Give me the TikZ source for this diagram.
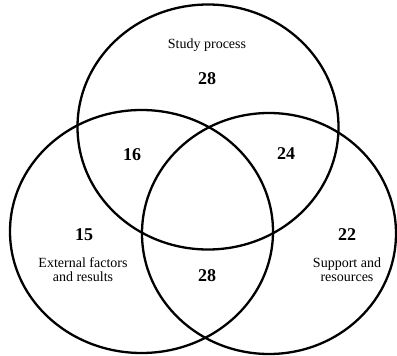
\documentclass[tikz,border=0pt]{standalone}
\usepackage{fontspec}
\setmainfont{Liberation Serif}
\begin{document}
\begin{tikzpicture}[x=1pt,y=-1pt,
  set/.style={draw=black,line width=2.3pt},
  lbl/.style={font=\fontsize{14}{14}\selectfont,align=center,inner sep=0pt},
  num/.style={font=\fontsize{18}{18}\selectfont\bfseries,inner sep=0pt}]
\useasboundingbox (0,0) rectangle (397,356);
\draw[set] (208,127) ellipse [x radius=130.5, y radius=122.5];
\draw[set] (141.5,231.5) ellipse [x radius=131.5, y radius=121.5];
\draw[set] (269,233.5) ellipse [x radius=127, y radius=120.5];
\node[lbl] (sp) at (207,45) {Study process};
\node[num] (n1) at (207,79) {28};
\node[num] (n2) at (132,155) {16};
\node[num] (n3) at (286,154) {24};
\node[num] (n4) at (84,235) {15};
\node[lbl] (ef) at (83,270) {External factors\\and results};
\node[num] (n5) at (207,276) {28};
\node[num] (n6) at (347,235) {22};
\node[lbl] (sr) at (347,270) {Support and\\resources};
\end{tikzpicture}
\end{document}
